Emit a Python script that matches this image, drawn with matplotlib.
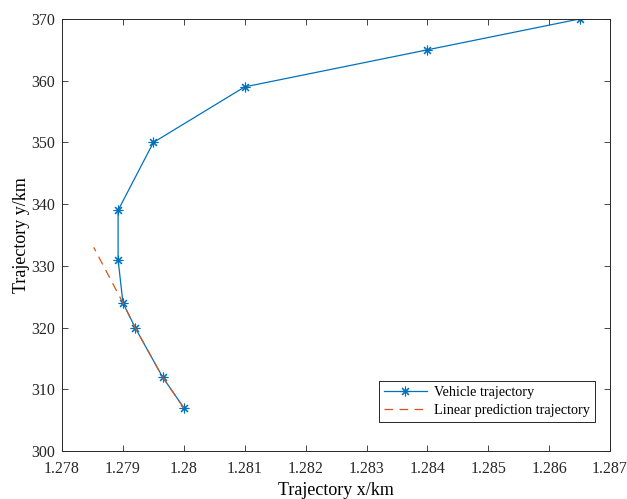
import matplotlib.pyplot as plt

# Vehicle trajectory (km)
veh_x = [1.2800, 1.27965, 1.2792, 1.2790, 1.27892, 1.27892, 1.2795, 1.2810, 1.2840, 1.2865]
veh_y = [307, 312, 320, 324, 331, 339, 350, 359, 365, 370]

# Linear prediction trajectory (km)
pred_x = [1.2800, 1.27965, 1.2792, 1.2790, 1.27852]
pred_y = [307, 312, 320, 324, 333]

plt.rcParams["font.family"] = ["Liberation Serif", "DejaVu Serif"]

fig = plt.figure(figsize=(6.27, 4.99), dpi=100)
ax = fig.add_axes([0.099, 0.096, 0.874, 0.866])

ax.plot(veh_x, veh_y, color="#0072BD", linewidth=0.9, marker=(8, 2, 0),
        markersize=7, markeredgewidth=0.8, label="Vehicle trajectory")
ax.plot(pred_x, pred_y, color="#D95319", linewidth=0.9, linestyle=(0, (7, 5)),
        label="Linear prediction trajectory")

ax.set_xlim(1.278, 1.287)
ax.set_ylim(300, 370)
ax.set_xticks([1.278 + 0.001 * i for i in range(10)])
ax.set_xticklabels(["1.278", "1.279", "1.28", "1.281", "1.282", "1.283",
                    "1.284", "1.285", "1.286", "1.287"])
ax.set_yticks(range(300, 371, 10))
ax.tick_params(direction="in", labelsize=11.5, top=True, right=True,
               length=4, width=0.6, colors="0.15")
ax.tick_params(axis="x", pad=7)
ax.tick_params(axis="y", pad=5)
for spine in ax.spines.values():
    spine.set_color("0.15")
    spine.set_linewidth(0.7)

ax.set_xlabel("Trajectory x/km", fontsize=13, labelpad=4)
ax.set_ylabel("Trajectory y/km", fontsize=13, labelpad=1)

leg = ax.legend(loc="lower right", fontsize=10.3, fancybox=False,
                edgecolor="0.15", framealpha=1, handlelength=3.0,
                borderpad=0.35, labelspacing=0.35, handletextpad=0.5,
                bbox_to_anchor=(0.985, 0.05))
leg.get_frame().set_linewidth(0.7)

plt.savefig("out.png", dpi=100)
plt.close()
